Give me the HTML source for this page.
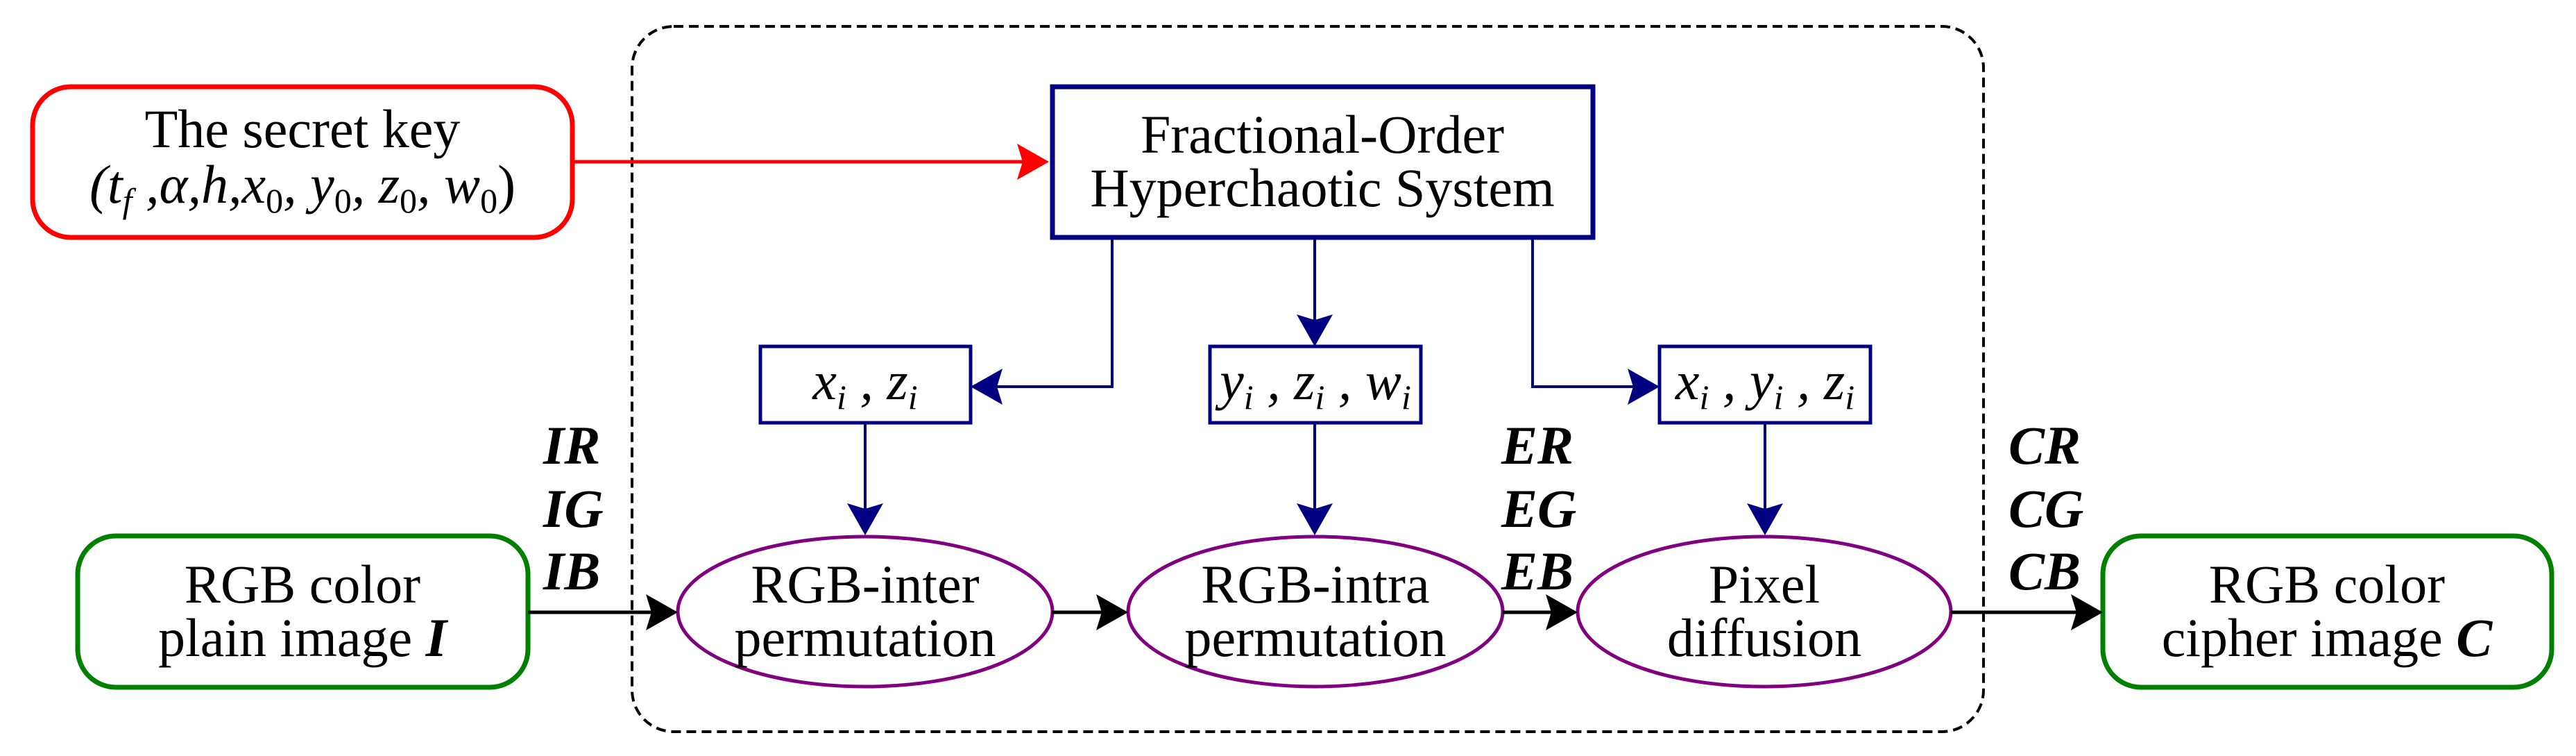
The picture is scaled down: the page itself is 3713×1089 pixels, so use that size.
<!DOCTYPE html>
<html><head><meta charset="utf-8"><style>
html,body{margin:0;padding:0;background:#fff;}
svg{display:block;}
svg text{font-family:"Liberation Serif","Times New Roman","DejaVu Serif",serif !important;font-size:78px;}
.i{font-style:italic;}
.b{font-weight:bold;font-style:italic;}
</style></head><body>
<svg width="3713" height="1089" viewBox="0 0 3713 1089" xmlns="http://www.w3.org/2000/svg" font-family="Liberation Serif, Times New Roman, DejaVu Serif, serif">
<rect x="911" y="38" width="1948" height="1016" rx="60" fill="none" stroke="#000" stroke-width="4" stroke-dasharray="14,8"/>
<rect x="47" y="125" width="778" height="217" rx="55" fill="#fff" stroke="#f00" stroke-width="7"/>
<text x="436" y="212" text-anchor="middle">The secret key</text>
<text x="436" y="292" text-anchor="middle" class="i">(t<tspan font-size="50" dy="14">f</tspan><tspan dy="-14"> ,α,h,x</tspan><tspan font-size="50" font-style="normal" dy="14">0</tspan><tspan dy="-14">, y</tspan><tspan font-size="50" font-style="normal" dy="14">0</tspan><tspan dy="-14">, z</tspan><tspan font-size="50" font-style="normal" dy="14">0</tspan><tspan dy="-14">, w</tspan><tspan font-size="50" font-style="normal" dy="14">0</tspan><tspan dy="-14" font-style="normal">)</tspan></text>
<line x1="825" y1="233" x2="1480" y2="233" stroke="#f00" stroke-width="5"/>
<path d="M1512,233 L1466,207 L1474,233 L1466,259 Z" fill="#f00"/>
<rect x="1517" y="125" width="779" height="217" fill="#fff" stroke="#000080" stroke-width="7"/>
<text x="1906" y="220" text-anchor="middle">Fractional-Order</text>
<text x="1906" y="297" text-anchor="middle">Hyperchaotic System</text>
<g stroke="#000080" stroke-width="4" fill="none">
<polyline points="1603,342 1603,557 1420,557"/>
<line x1="1895" y1="342" x2="1895" y2="470"/>
<polyline points="2209,342 2209,557 2370,557"/>
<line x1="1247" y1="609" x2="1247" y2="745"/>
<line x1="1895" y1="609" x2="1895" y2="745"/>
<line x1="2544" y1="609" x2="2544" y2="745"/>
</g>
<g fill="#000080">
<path d="M1399,557 L1445,531 L1437,557 L1445,583 Z"/>
<path d="M1895,499 L1869,453 L1895,461 L1921,453 Z"/>
<path d="M2392,557 L2346,531 L2354,557 L2346,583 Z"/>
<path d="M1247,771 L1221,725 L1247,733 L1273,725 Z"/>
<path d="M1895,771 L1869,725 L1895,733 L1921,725 Z"/>
<path d="M2544,771 L2518,725 L2544,733 L2570,725 Z"/>
</g>
<g fill="#fff" stroke="#000080" stroke-width="5">
<rect x="1096" y="499" width="303" height="110"/>
<rect x="1744" y="499" width="304" height="110"/>
<rect x="2392" y="499" width="304" height="110"/>
</g>
<text x="1247" y="575" text-anchor="middle" class="i">x<tspan font-size="50" dy="14">i</tspan><tspan dy="-14"> , z</tspan><tspan font-size="50" dy="14">i</tspan></text>
<text x="1896" y="575" text-anchor="middle" class="i">y<tspan font-size="50" dy="14">i</tspan><tspan dy="-14"> , z</tspan><tspan font-size="50" dy="14">i</tspan><tspan dy="-14"> , w</tspan><tspan font-size="50" dy="14">i</tspan></text>
<text x="2544" y="575" text-anchor="middle" class="i">x<tspan font-size="50" dy="14">i</tspan><tspan dy="-14"> , y</tspan><tspan font-size="50" dy="14">i</tspan><tspan dy="-14"> , z</tspan><tspan font-size="50" dy="14">i</tspan></text>
<g fill="#fff" stroke="#800080" stroke-width="5">
<ellipse cx="1247" cy="881" rx="270" ry="108"/>
<ellipse cx="1896" cy="881" rx="270" ry="108"/>
<ellipse cx="2543" cy="881" rx="269" ry="108"/>
</g>
<text x="1247" y="868" text-anchor="middle">RGB-inter</text>
<text x="1247" y="945" text-anchor="middle">permutation</text>
<text x="1896" y="868" text-anchor="middle">RGB-intra</text>
<text x="1896" y="945" text-anchor="middle">permutation</text>
<text x="2543" y="868" text-anchor="middle">Pixel</text>
<text x="2543" y="945" text-anchor="middle">diffusion</text>
<rect x="112" y="772" width="649" height="218" rx="55" fill="#fff" stroke="#008000" stroke-width="7"/>
<text x="436" y="868" text-anchor="middle">RGB color</text>
<text x="436" y="945" text-anchor="middle">plain image <tspan class="b">I</tspan></text>
<rect x="3031" y="772" width="647" height="218" rx="55" fill="#fff" stroke="#008000" stroke-width="7"/>
<text x="3354" y="868" text-anchor="middle">RGB color</text>
<text x="3354" y="945" text-anchor="middle">cipher image <tspan class="b">C</tspan></text>
<g stroke="#000" stroke-width="5">
<line x1="761" y1="882" x2="945" y2="882"/>
<line x1="1516" y1="882" x2="1595" y2="882"/>
<line x1="2166" y1="882" x2="2243" y2="882"/>
<line x1="2812" y1="882" x2="3000" y2="882"/>
</g>
<g fill="#000">
<path d="M977,882 L931,856 L939,882 L931,908 Z"/>
<path d="M1626,882 L1580,856 L1588,882 L1580,908 Z"/>
<path d="M2274,882 L2228,856 L2236,882 L2228,908 Z"/>
<path d="M3031,882 L2985,856 L2993,882 L2985,908 Z"/>
</g>
<g class="b">
<text x="783" y="668">IR</text>
<text x="783" y="759">IG</text>
<text x="783" y="849">IB</text>
<text x="2164" y="668">ER</text>
<text x="2164" y="759">EG</text>
<text x="2164" y="849">EB</text>
<text x="2895" y="668">CR</text>
<text x="2895" y="759">CG</text>
<text x="2895" y="849">CB</text>
</g>
</svg>
</body></html>
